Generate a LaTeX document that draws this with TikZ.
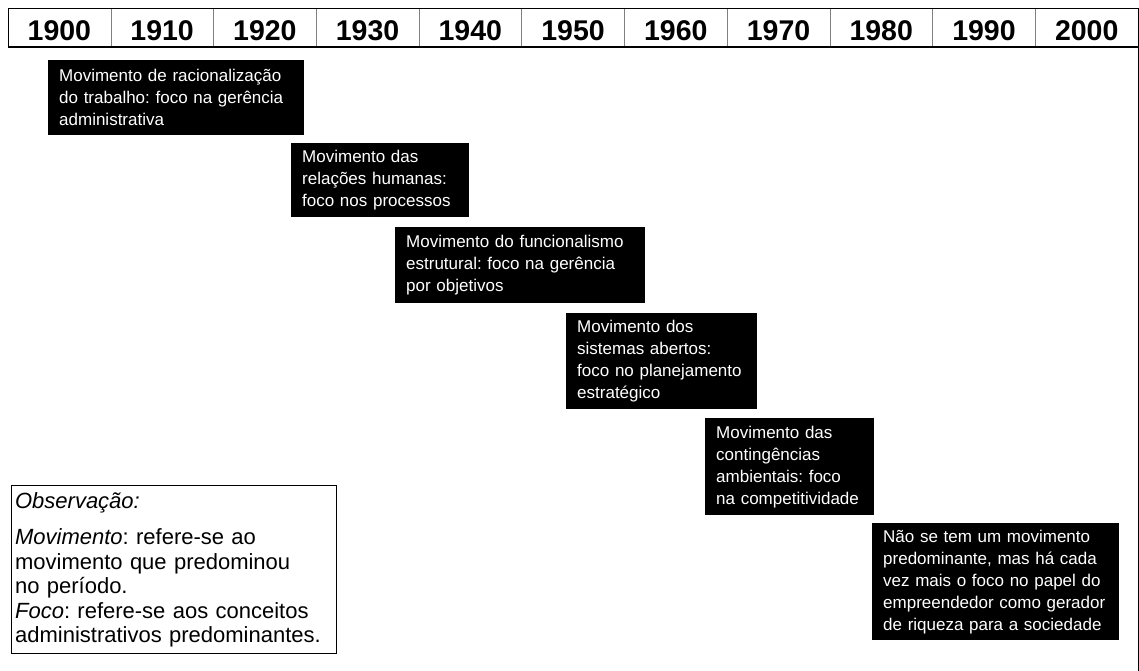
\documentclass[tikz,border=0pt]{standalone}
\usepackage{fontspec}
\setmainfont{Liberation Sans}
\frenchspacing

\tikzset{
  period/.style={fill=black, text=white, anchor=north west, align=left,
                 inner xsep=11pt, inner ysep=0pt,
                 font=\fontsize{17}{22}\selectfont},
  year/.style={font=\fontsize{28.5}{30}\selectfont\bfseries, inner sep=0pt}
}

\begin{document}
\begin{tikzpicture}[x=1pt,y=-1pt]
\useasboundingbox (0,0) rectangle (1139,671);

% time axis
\draw[gray] \foreach \i in {1,...,10} {(8+102.73*\i,8) -- (8+102.73*\i,47)};
\draw (8,47) -- (8,8) -- (1138,8) -- (1138,671);
\draw[line width=2.5pt] (8,47) -- (1138,47);
\foreach \y [count=\i from 0] in {1900,1910,1920,1930,1940,1950,1960,1970,1980,1990,2000}
  \node[year] (y\y) at (59.4+102.73*\i,30.5) {\y};

\node[period, text width=234pt, minimum height=75pt] (racional) at (48,60)
  {Movimento de racionalização\\do trabalho: foco na gerência\\administrativa};
\node[period, text width=156pt, minimum height=74pt] (relacoes) at (291,143)
  {Movimento das\\relações humanas:\\foco nos processos};
\node[period, text width=228pt, minimum height=76pt] (funcional) at (395,227)
  {Movimento do funcionalismo\\estrutural: foco na gerência\\por objetivos};
\node[period, text width=169pt, minimum height=96pt] (sistemas) at (566,313)
  {Movimento dos\\sistemas abertos:\\foco no planejamento\\estratégico};
\node[period, text width=147pt, minimum height=97pt] (conting) at (705,418)
  {Movimento das\\contingências\\ambientais: foco\\na competitividade};
\node[period, text width=225pt, minimum height=117pt] (empreend) at (872,523)
  {Não se tem um movimento\\predominante, mas há cada\\vez mais o foco no papel do\\empreendedor como gerador\\de riqueza para a sociedade};

\node[draw, line width=1.2pt, anchor=north west, align=left, text width=318pt,
      inner xsep=3.5pt, inner ysep=0pt, minimum height=168pt,
      font=\fontsize{22}{24.5}\selectfont] (obs) at (11,485)
  {\textit{Observação:}\\[12pt]
   \textit{Movimento}: refere-se ao\\movimento que predominou\\no período.\\
   \textit{Foco}: refere-se aos conceitos\\administrativos predominantes.};
\end{tikzpicture}
\end{document}
